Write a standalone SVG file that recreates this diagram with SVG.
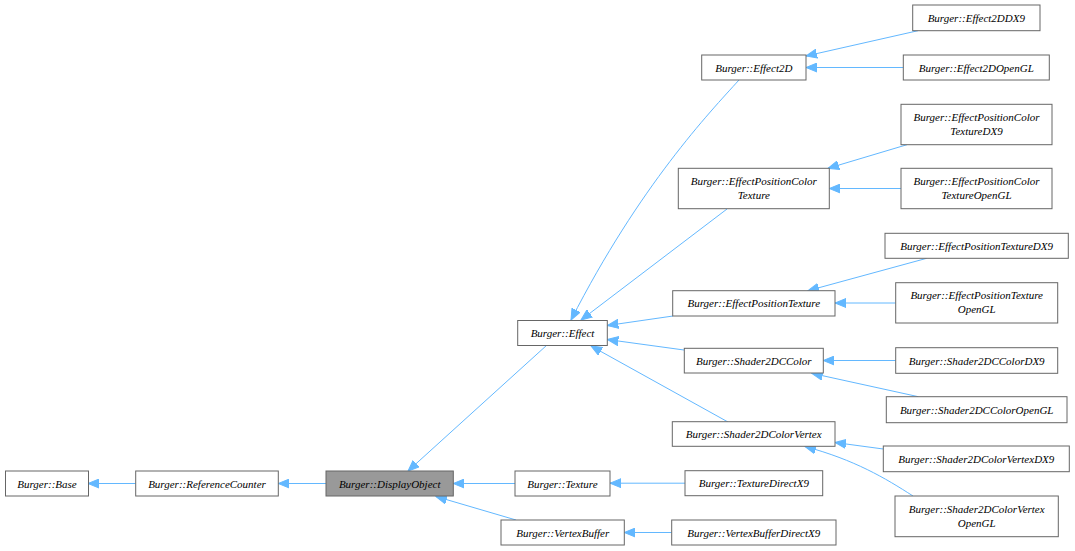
<svg xmlns="http://www.w3.org/2000/svg" width="1075" height="551" viewBox="0 0 1075 551">
<style>
.n rect{fill:#fff;stroke:#666;stroke-width:1}
.n.cur rect{fill:#999}
.n text{font-family:"Liberation Serif",serif;font-style:italic;font-size:11px;fill:#000;text-anchor:middle}
.e path{fill:none;stroke:#63b8ff;stroke-width:1;marker-end:url(#ah)}
</style>
<defs>
<marker id="ah" markerUnits="userSpaceOnUse" markerWidth="12" markerHeight="10" refX="11" refY="5" orient="auto">
<path d="M0,0.5 L11,5 L0,9.5 z" fill="#63b8ff" stroke="#63b8ff" stroke-width="1"/>
</marker>
</defs>
<rect width="1075" height="551" fill="#fff"/>
<g id="edges" class="e">
<path d="M135.7,483.5 L88,483.5"/>
<path d="M326,483.5 L278.3,483.5"/>
<path d="M547,345 L408,471"/>
<path d="M515,483.5 L453.3,483.5"/>
<path d="M516,520 L436,496.5"/>
<path d="M739,80 C710,112 640,185 571,320"/>
<path d="M727,209 L581,320"/>
<path d="M673,316 L607.3,325.5"/>
<path d="M684,350 L607.3,339.5"/>
<path d="M728,422 L591,346"/>
<path d="M685,483.2 L610,483.2"/>
<path d="M671.7,532.5 L624.3,532.5"/>
<path d="M918,30.7 L806,56"/>
<path d="M903.3,67.5 L806,67.5"/>
<path d="M907,144.7 L828,168.3"/>
<path d="M901,188.5 L829.3,188.5"/>
<path d="M926.7,258.3 L808,290.7"/>
<path d="M895.7,303 L835,303"/>
<path d="M895.7,360.5 L823.3,360.5"/>
<path d="M918.3,396.7 L811.7,373.3"/>
<path d="M883.3,449 L835,442.5"/>
<path d="M913,496 C885,478 855,460 805,446.5"/>
</g>
<g id="base" class="n"><rect x="5.5" y="471" width="83" height="25"/><text x="47" y="487.5">Burger::Base</text></g>
<g id="refcounter" class="n"><rect x="135.7" y="471" width="142.6" height="25"/><text x="207" y="487.5">Burger::ReferenceCounter</text></g>
<g id="displayobject" class="n cur"><rect x="326" y="471" width="127.3" height="25"/><text x="389.7" y="487.5">Burger::DisplayObject</text></g>
<g id="effect" class="n"><rect x="517.7" y="320.5" width="89.6" height="25"/><text x="562.5" y="337">Burger::Effect</text></g>
<g id="texture" class="n"><rect x="515" y="471" width="95" height="25"/><text x="562.5" y="487.5">Burger::Texture</text></g>
<g id="vertexbuffer" class="n"><rect x="501" y="520" width="123.3" height="25"/><text x="562.7" y="536.5">Burger::VertexBuffer</text></g>
<g id="effect2d" class="n"><rect x="701.7" y="55" width="104.3" height="25"/><text x="753.8" y="71.5">Burger::Effect2D</text></g>
<g id="epct" class="n"><rect x="678.3" y="168.3" width="151" height="40.4"/><text x="753.8" y="185">Burger::EffectPositionColor</text><text x="753.8" y="199">Texture</text></g>
<g id="ept" class="n"><rect x="672.7" y="290.7" width="162.3" height="25.3"/><text x="753.8" y="307.3">Burger::EffectPositionTexture</text></g>
<g id="s2dccolor" class="n"><rect x="684.3" y="348.3" width="139" height="24.7"/><text x="753.8" y="364.8">Burger::Shader2DCColor</text></g>
<g id="s2dcv" class="n"><rect x="672.3" y="421.7" width="162.7" height="24.6"/><text x="753.7" y="438">Burger::Shader2DColorVertex</text></g>
<g id="texdx9" class="n"><rect x="685" y="470.7" width="137.7" height="25"/><text x="753.8" y="487.2">Burger::TextureDirectX9</text></g>
<g id="vbdx9" class="n"><rect x="671.7" y="520" width="164.3" height="25"/><text x="753.8" y="536.5">Burger::VertexBufferDirectX9</text></g>
<g id="effect2ddx9" class="n"><rect x="912.7" y="5" width="127.3" height="25.7"/><text x="976.3" y="21.8">Burger::Effect2DDX9</text></g>
<g id="effect2dogl" class="n"><rect x="903.3" y="55" width="146" height="25"/><text x="976.3" y="71.5">Burger::Effect2DOpenGL</text></g>
<g id="epctdx9" class="n"><rect x="901" y="104.3" width="151" height="40.4"/><text x="976.5" y="121">Burger::EffectPositionColor</text><text x="976.5" y="135">TextureDX9</text></g>
<g id="epctogl" class="n"><rect x="901" y="168.3" width="151" height="40.4"/><text x="976.5" y="185">Burger::EffectPositionColor</text><text x="976.5" y="199">TextureOpenGL</text></g>
<g id="eptdx9" class="n"><rect x="885" y="233.3" width="183.3" height="25"/><text x="976.6" y="249.8">Burger::EffectPositionTextureDX9</text></g>
<g id="eptogl" class="n"><rect x="895.7" y="282.7" width="162" height="40.3"/><text x="976.7" y="299.3">Burger::EffectPositionTexture</text><text x="976.7" y="313.3">OpenGL</text></g>
<g id="s2dccolordx9" class="n"><rect x="895.7" y="347.7" width="162" height="25.6"/><text x="976.7" y="364.5">Burger::Shader2DCColorDX9</text></g>
<g id="s2dccolorogl" class="n"><rect x="886.3" y="396.7" width="180.7" height="26"/><text x="976.7" y="413.7">Burger::Shader2DCColorOpenGL</text></g>
<g id="s2dcvdx9" class="n"><rect x="883.3" y="446" width="186" height="25.7"/><text x="976.3" y="462.8">Burger::Shader2DColorVertexDX9</text></g>
<g id="s2dcvogl" class="n"><rect x="895" y="496" width="163.3" height="40.7"/><text x="976.7" y="512.8">Burger::Shader2DColorVertex</text><text x="976.7" y="526.8">OpenGL</text></g>
</svg>
